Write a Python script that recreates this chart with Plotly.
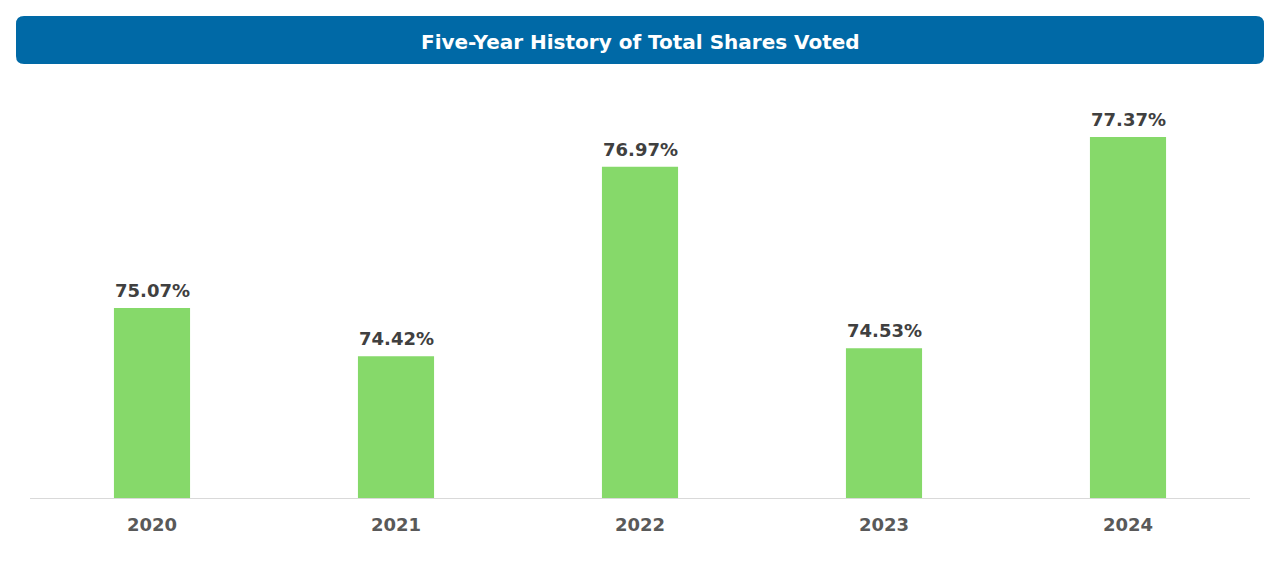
import plotly.graph_objects as go

years = ["2020", "2021", "2022", "2023", "2024"]
shares_voted = [75.07, 74.42, 76.97, 74.53, 77.37]
value_labels = ["75.07%", "74.42%", "76.97%", "74.53%", "77.37%"]
title_text = "Five-Year History of Total Shares Voted"

W, H = 1280, 565
OFF = 8  # page body margin
ml, mr, mt, mb = 30 - OFF, 38, 100 - OFF, 75
pw, ph = W - ml - mr, H - mt - mb

def px_x(x):
    return (x - OFF - ml) / pw

def px_y(y):
    return (H - mb - (y - OFF)) / ph

FONT = "DejaVu Sans"

fig = go.Figure(go.Bar(
    x=years, y=shares_voted,
    marker=dict(color="#86D96A", line=dict(width=0)),
    width=0.312, cliponaxis=False, hoverinfo="skip",
))

label_annotations = [
    dict(x=i, y=v, text=t, xref="x", yref="y", showarrow=False,
         xanchor="center", yanchor="bottom", yshift=5,
         font=dict(family=FONT, size=18, color="#404040", weight="bold"))
    for i, (v, t) in enumerate(zip(shares_voted, value_labels))
]

# rounded title box
x0, x1, y0, y1, r = 16, 1264, 16, 64, 8
path = (
    f"M {px_x(x0+r)} {px_y(y0)} L {px_x(x1-r)} {px_y(y0)} "
    f"Q {px_x(x1)} {px_y(y0)} {px_x(x1)} {px_y(y0+r)} "
    f"L {px_x(x1)} {px_y(y1-r)} Q {px_x(x1)} {px_y(y1)} {px_x(x1-r)} {px_y(y1)} "
    f"L {px_x(x0+r)} {px_y(y1)} Q {px_x(x0)} {px_y(y1)} {px_x(x0)} {px_y(y1-r)} "
    f"L {px_x(x0)} {px_y(y0+r)} Q {px_x(x0)} {px_y(y0)} {px_x(x0+r)} {px_y(y0)} Z"
)

fig.update_layout(
    width=W, height=H, margin=dict(l=ml, r=mr, t=mt, b=mb),
    paper_bgcolor="white", plot_bgcolor="white", showlegend=False,
    bargap=0.688,
    xaxis=dict(type="category", range=[-0.5, len(years) - 0.5],
               showgrid=False, showline=True, linecolor="#D9D9D9", linewidth=1,
               ticks="", ticklabelstandoff=10,
               tickfont=dict(family=FONT, size=18, color="#595959", weight="bold"),
               fixedrange=True),
    yaxis=dict(range=[72.515, 72.515 + ph / 74.35], visible=False, fixedrange=True),
    shapes=[dict(type="path", path=path, xref="paper", yref="paper",
                 fillcolor="#0069A6", line=dict(width=0), layer="below")],
    annotations=label_annotations + [
        dict(text=title_text, xref="paper", yref="paper",
             x=px_x(640), y=px_y(42), showarrow=False,
             xanchor="center", yanchor="middle",
             font=dict(family=FONT, size=20, color="white", weight="bold"))],
)

fig.write_html("out.html")
